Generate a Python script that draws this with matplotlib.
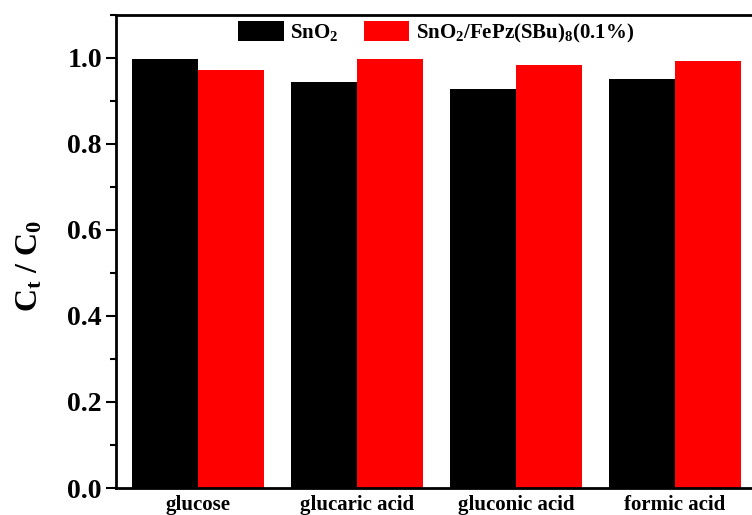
import matplotlib
matplotlib.use("Agg")
import matplotlib.pyplot as plt
import numpy as np
from matplotlib.ticker import MultipleLocator

plt.rcParams['font.family'] = 'Liberation Serif'
plt.rcParams['font.weight'] = 'bold'
plt.rcParams['mathtext.fontset'] = 'custom'
plt.rcParams['mathtext.rm'] = 'Liberation Serif:bold'
plt.rcParams['mathtext.it'] = 'Liberation Serif:bold'
plt.rcParams['mathtext.bf'] = 'Liberation Serif:bold'

categories = ['glucose', 'glucaric acid', 'gluconic acid', 'formic acid']
sno2 = [0.998, 0.945, 0.928, 0.951]
sno2_fepz = [0.972, 0.998, 0.984, 0.993]
series_names = [r'SnO$_2$', r'SnO$_2$/FePz(SBu)$_8$(0.1%)']

fig = plt.figure(figsize=(7.52, 5.15), dpi=100)
# right edge of the axes lies just past the figure, as in the cropped original
ax = fig.add_axes([0.154, 0.0524, 0.862, 0.9186])

x = np.arange(len(categories))
w = 0.415
ax.bar(x - w / 2, sno2, width=w, color='black', label=series_names[0])
ax.bar(x + w / 2, sno2_fepz, width=w, color='red', label=series_names[1])

ax.set_xlim(-0.516, 3.56)
ax.set_ylim(0, 1.1)
ax.set_xticks(x)
ax.set_xticklabels(categories, fontsize=15, fontweight='bold')
ax.yaxis.set_minor_locator(MultipleLocator(0.1))
ax.set_yticks([0, 0.2, 0.4, 0.6, 0.8, 1.0])
ax.set_yticklabels(['0.0', '0.2', '0.4', '0.6', '0.8', '1.0'], fontsize=20, fontweight='bold')
ax.tick_params(axis='y', which='major', direction='out', length=7, width=1.5, pad=3)
ax.tick_params(axis='y', which='minor', direction='out', length=4, width=1.5)
ax.tick_params(axis='x', length=0, pad=5)

for s in ax.spines.values():
    s.set_linewidth(2)

ax.set_ylabel(r'C$_\mathrm{t}$ / C$_\mathrm{0}$', fontsize=23, fontweight='bold')
ax.yaxis.set_label_coords(-0.11, 0.47)

ax.legend(loc='center', bbox_to_anchor=(0.494, 0.962), ncol=2, frameon=False,
          fontsize=15, handlelength=2.2, handleheight=1.1, columnspacing=1.2,
          handletextpad=0.3, borderaxespad=0)

fig.savefig('out.png', dpi=100)
